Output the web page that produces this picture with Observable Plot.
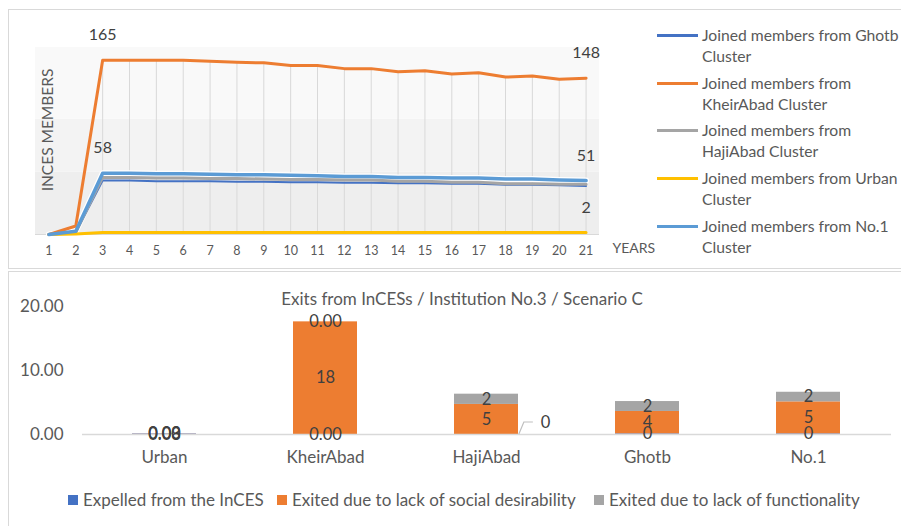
<!DOCTYPE html>
<html>
<head>
<meta charset="utf-8">
<script src="https://cdn.jsdelivr.net/npm/d3@7"></script>
<script src="https://cdn.jsdelivr.net/npm/@observablehq/plot@0.6"></script>
<style>
  body { margin: 0; background: #fff; font-family: Lato, "Open Sans", sans-serif; color: #595959; }
  #page { position: relative; width: 901px; height: 526px; overflow: hidden; background: #fff; }
  .panel { position: absolute; border: 1px solid #d9d9d9; box-sizing: border-box; }
  .abs { position: absolute; }
  .lg-row { position: absolute; left: 657px; width: 244px; font-size: 15.7px; line-height: 21px; }
  .lg-swatch { position: absolute; left: 0; top: 9px; width: 41px; height: 3px; }
  .lg-text { position: absolute; left: 45px; top: 0; width: 200px; white-space: normal; }
  .blg { position: absolute; top: 489px; font-size: 17px; line-height: 22px; white-space: nowrap; }
  .blg span.sq { position: absolute; left: 0; top: 6px; width: 10px; height: 10px; }
  .blg span.tx { position: absolute; left: 15px; top: 0; }
</style>
</head>
<body>
<div id="page">
  <div class="panel" style="left:8px;top:9px;width:900px;height:260px"></div>
  <div class="panel" style="left:8px;top:271px;width:900px;height:270px"></div>
  <div id="topChart" class="abs" style="left:0;top:0"></div>
  <div id="topLegend"></div>
  <div id="bottomChart" class="abs" style="left:0;top:272px"></div>
  <div id="bottomLegend"></div>
</div>
<script>
// ---------- Members joined per cluster, years 1–21 ----------
const years = [1, 2, 3, 4, 5, 6, 7, 8, 9, 10, 11, 12, 13, 14, 15, 16, 17, 18, 19, 20, 21];
const clusterNames = ["Ghotb", "KheirAbad", "HajiAbad", "Urban", "No.1"];
const ghotbMembers     = [0, 2, 51, 51, 50.5, 50.5, 50.5, 50, 50, 49.5, 49.5, 49, 49, 48.5, 48.5, 48, 48, 47, 47, 46.5, 46];
const kheirAbadMembers = [0, 8, 165, 165, 165, 165, 164, 163, 162.5, 160, 160, 157, 157, 154, 155, 152, 153, 149, 150, 147, 148];
const hajiAbadMembers  = [0, 2, 54, 54, 53.5, 53.5, 53, 53, 52.5, 52, 52, 51.5, 51.5, 50.5, 50.5, 49.5, 49.5, 48, 48, 47.5, 47.5];
const urbanMembers     = [0, 0.5, 2, 2, 2, 2, 2, 2, 2, 2, 2, 2, 2, 2, 2, 2, 2, 2, 2, 2, 2];
const no1Members       = [0, 3, 58, 58, 57.5, 57.5, 57, 56.5, 56.5, 56, 55.5, 55, 55, 54, 54, 53.5, 53.5, 52.5, 52.5, 51.5, 51];

// ---------- Exits from InCESs, Institution No.3, Scenario C ----------
const exitCategories = ["Urban", "KheirAbad", "HajiAbad", "Ghotb", "No.1"];
const exitSeries = ["Expelled from the InCES", "Exited due to lack of social desirability", "Exited due to lack of functionality"];
const expelled           = [0.08, 0, 0, 0.1, 0.1];
const socialDesirability = [0.03, 17.6, 4.7, 3.5, 5.0];
const functionality      = [0, 0, 1.6, 1.55, 1.5];
// decimal places shown in each series' value labels, per category
const expelledDecimals      = [2, 2, 0, 0, 0];
const socialDecimals        = [2, 0, 0, 0, 0];
const functionalityDecimals = [2, 2, 0, 0, 0];
const exitTitle = "Exits from InCESs / Institution No.3 / Scenario C";

// ---------- styling ----------
const lineColors = ["#4472C4", "#ED7D31", "#A5A5A5", "#FFC000", "#5B9BD5"];
const lineWidths = [2, 3, 3, 3, 3.5];
const barColors = ["#4472C4", "#ED7D31", "#A5A5A5"];
const textDark = "#404040";
const textAxis = "#595959";
const font = "Lato, 'Open Sans', sans-serif";

// ---------- line chart ----------
const memberSeries = [ghotbMembers, kheirAbadMembers, hajiAbadMembers, urbanMembers, no1Members];
const lineRows = clusterNames.map((name, s) =>
  years.map((year, i) => ({year, value: memberSeries[s][i], name})));

// background shading bands of the plot area
const bands = [
  {x1: 0.5, x2: 21.5, y1: 0, y2: 59, fill: "#eeeeee"},
  {x1: 0.5, x2: 21.5, y1: 59, y2: 109, fill: "#f3f3f3"},
  {x1: 0.5, x2: 21.5, y1: 109, y2: 177, fill: "#f9f9f9"}
];

// drop lines from the highest series down to the axis
const dropLines = years.map((year, i) => ({year, top: kheirAbadMembers[i]}));

const last = years.length - 1;
const valueLabels = [
  {year: years[2], value: kheirAbadMembers[2]},
  {year: years[2], value: no1Members[2]},
  {year: years[last], value: kheirAbadMembers[last]},
  {year: years[last], value: no1Members[last]},
  {year: years[last], value: urbanMembers[last]}
];

const drawOrder = [0, 2, 1, 3, 4];
const topPlot = Plot.plot({
  width: 660,
  height: 268,
  marginLeft: 35,
  marginRight: 61,
  marginTop: 47,
  marginBottom: 34,
  style: {fontFamily: font, fontSize: "12.5px", color: textAxis, background: "transparent", overflow: "visible"},
  x: {domain: [0.5, 21.5], ticks: years, tickFormat: d => String(d), tickSize: 0, tickPadding: 12, label: null},
  y: {domain: [0, 177], axis: null},
  marks: [
    Plot.rect(bands, {x1: "x1", x2: "x2", y1: "y1", y2: "y2", fill: "fill"}),
    Plot.ruleX(dropLines, {x: "year", y1: 0, y2: "top", stroke: "#d9d9d9", strokeWidth: 1}),
    Plot.ruleY([0], {stroke: "#d9d9d9", strokeWidth: 1}),
    // white halo under the No.1 line
    Plot.line(lineRows[4], {x: "year", y: "value", stroke: "#ffffff", strokeWidth: 6, strokeLinejoin: "round"}),
    ...drawOrder.map(s =>
      Plot.line(lineRows[s], {x: "year", y: "value", stroke: lineColors[s], strokeWidth: lineWidths[s], strokeLinejoin: "round", strokeLinecap: "round"})),
    Plot.text(valueLabels, {x: "year", y: "value", text: d => String(d.value), dy: -25, fontSize: 16, fill: textDark}),
    Plot.text(["YEARS"], {frameAnchor: "bottom-right", dx: 13, dy: 18, textAnchor: "start", fontSize: 14, fill: textAxis}),
    Plot.text(["INCES MEMBERS"], {frameAnchor: "left", dx: 13, dy: -11, rotate: -90, textAnchor: "middle", fontSize: 15.5, fill: textAxis})
  ]
});
document.getElementById("topChart").appendChild(topPlot);

// legend of the line chart
const topLegend = document.getElementById("topLegend");
const legendTops = [24.5, 72.5, 119.5, 167.5, 215.5];
clusterNames.forEach((name, s) => {
  const row = document.createElement("div");
  row.className = "lg-row";
  row.style.top = legendTops[s] + "px";
  row.innerHTML = `<span class="lg-swatch" style="background:${lineColors[s]}"></span>` +
    `<span class="lg-text">Joined members from ${name} Cluster</span>`;
  topLegend.appendChild(row);
});

// ---------- stacked bar chart ----------
const exitValues = [expelled, socialDesirability, functionality];
const exitDecimals = [expelledDecimals, socialDecimals, functionalityDecimals];
const exitRows = [];
exitCategories.forEach((category, c) => {
  exitSeries.forEach((series, s) => {
    const value = exitValues[s][c];
    exitRows.push({
      category, series, value,
      label: d3.format(`.${exitDecimals[s][c]}f`)(value),
      callout: category === "HajiAbad" && s === 0
    });
  });
});
const callouts = exitRows.filter(d => d.callout);

const bottomPlot = Plot.plot({
  width: 901,
  height: 254,
  marginLeft: 82,
  marginRight: 10,
  marginTop: 34,
  marginBottom: 92,
  style: {fontFamily: font, fontSize: "17px", color: textAxis, background: "transparent", overflow: "visible"},
  x: {domain: exitCategories, paddingInner: 0.6, paddingOuter: 0.3, tickSize: 0, tickPadding: 16, label: null},
  y: {domain: [0, 20], ticks: [0, 10, 20], tickFormat: d3.format(".2f"), tickSize: 0, tickPadding: 19, label: null},
  color: {domain: exitSeries, range: barColors},
  marks: [
    Plot.barY(exitRows, {x: "category", y: "value", fill: "series", z: "series"}),
    Plot.ruleY([0], {stroke: "#d9d9d9", strokeWidth: 1.5}),
    Plot.text(exitRows, Plot.stackY({x: "category", y: "value", z: "series", text: d => d.callout ? "" : d.label, fill: textDark, fontSize: 16.5})),
    Plot.text(callouts, {x: "category", y: "value", text: "label", dx: 59, dy: -12, fill: textDark, fontSize: 16.5}),
    Plot.text([exitTitle], {frameAnchor: "top", dx: -25, dy: -7, lineAnchor: "middle", fontSize: 17, fill: textAxis})
  ]
});
document.getElementById("bottomChart").appendChild(bottomPlot);

// leader line from the HajiAbad bar to its moved label
{
  const xs = bottomPlot.scale("x");
  const ys = bottomPlot.scale("y");
  const band = d3.scaleBand(xs.domain, xs.range)
    .paddingInner(xs.paddingInner).paddingOuter(xs.paddingOuter).align(xs.align ?? 0.5);
  const yLin = d3.scaleLinear(ys.domain, ys.range);
  callouts.forEach(d => {
    const right = band(d.category) + band.bandwidth();
    const y0 = yLin(d.value);
    d3.select(bottomPlot).append("path")
      .attr("d", `M${right},${y0}L${right + 5},${y0 - 12}L${right + 14},${y0 - 12}`)
      .attr("fill", "none").attr("stroke", "#bfbfbf").attr("stroke-width", 1.2);
  });
}

// legend of the bar chart
const bottomLegend = document.getElementById("bottomLegend");
const legendLefts = [68, 277, 594];
exitSeries.forEach((series, s) => {
  const item = document.createElement("div");
  item.className = "blg";
  item.style.left = legendLefts[s] + "px";
  item.innerHTML = `<span class="sq" style="background:${barColors[s]}"></span><span class="tx">${series}</span>`;
  bottomLegend.appendChild(item);
});
</script>
</body>
</html>
